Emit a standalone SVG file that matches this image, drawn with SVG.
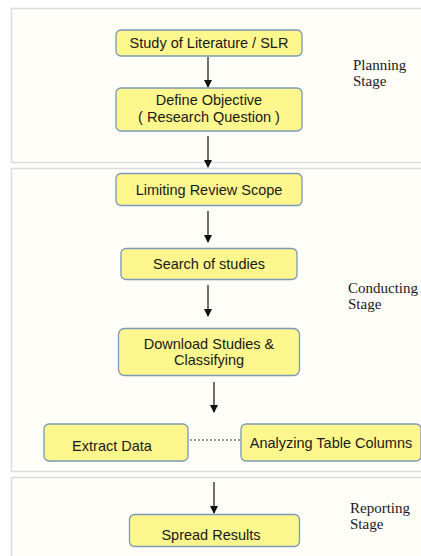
<svg xmlns="http://www.w3.org/2000/svg" width="421" height="556" viewBox="0 0 421 556">
<defs>
<marker id="ah" markerWidth="8" markerHeight="8" refX="7" refY="4" orient="auto" markerUnits="userSpaceOnUse">
<path d="M0,0 L8,4 L0,8 Z" fill="#111"/>
</marker>
<style>
.panel{fill:#fefdf7;stroke:#dcdcdc;stroke-width:1.5}
.box{fill:#fdf78e;stroke:#7d98b8;stroke-width:1.3}
.t{font-family:"Liberation Sans",Arial,sans-serif;font-size:14.5px;fill:#1a1a1a;text-anchor:middle}
.s{font-family:"Liberation Serif","Times New Roman",serif;font-size:15px;fill:#1a1a1a}
.c{stroke:#333;stroke-width:1.4;fill:none}
</style>
</defs>
<rect width="421" height="556" fill="#ffffff"/>
<g id="panels">
<rect class="panel" x="11.5" y="8.5" width="415" height="154"/>
<rect class="panel" x="11.5" y="168.5" width="415" height="303"/>
<rect class="panel" x="11.5" y="477.5" width="415" height="90"/>
</g>
<g id="connectors">
<line class="c" x1="208" y1="57" x2="208" y2="87" marker-end="url(#ah)"/>
<line class="c" x1="208" y1="136" x2="208" y2="167" marker-end="url(#ah)"/>
<line class="c" x1="208" y1="211" x2="208" y2="242" marker-end="url(#ah)"/>
<line class="c" x1="208" y1="285" x2="208" y2="316" marker-end="url(#ah)"/>
<line class="c" x1="214" y1="382" x2="214" y2="412" marker-end="url(#ah)"/>
<line x1="190" y1="440" x2="241" y2="440" stroke="#333" stroke-width="1" stroke-dasharray="2,2"/>
<line class="c" x1="214" y1="482" x2="214" y2="513" marker-end="url(#ah)"/>
</g>
<g id="n1"><rect class="box" x="116" y="30" width="186" height="26" rx="5"/><text class="t" x="209" y="48">Study of Literature / SLR</text></g>
<g id="n2"><rect class="box" x="116" y="88" width="186" height="43" rx="5"/><text class="t" x="209" y="105">Define Objective</text><text class="t" x="209" y="122">( Research Question )</text></g>
<g id="n3"><rect class="box" x="116" y="173.5" width="186" height="32" rx="5"/><text class="t" x="209" y="194.5">Limiting Review Scope</text></g>
<g id="n4"><rect class="box" x="121" y="248.5" width="176" height="31" rx="5"/><text class="t" x="209" y="269">Search of studies</text></g>
<g id="n5"><rect class="box" x="118.5" y="328.5" width="181" height="47" rx="6"/><text class="t" x="209" y="349">Download Studies &amp;</text><text class="t" x="209" y="365">Classifying</text></g>
<g id="n6"><rect class="box" x="44" y="424" width="144" height="37" rx="5"/><text class="t" x="112" y="451">Extract Data</text></g>
<g id="n7"><rect class="box" x="241" y="424" width="180" height="37" rx="5"/><text class="t" x="331" y="448">Analyzing Table Columns</text></g>
<g id="n8"><rect class="box" x="129.5" y="514.5" width="170" height="32" rx="5"/><text class="t" x="211" y="540">Spread Results</text></g>
<g id="labels">
<text class="s" x="353" y="70">Planning</text><text class="s" x="353" y="86">Stage</text>
<text class="s" x="348" y="293">Conducting</text><text class="s" x="348" y="309">Stage</text>
<text class="s" x="350" y="513">Reporting</text><text class="s" x="350" y="529">Stage</text>
</g>
</svg>
